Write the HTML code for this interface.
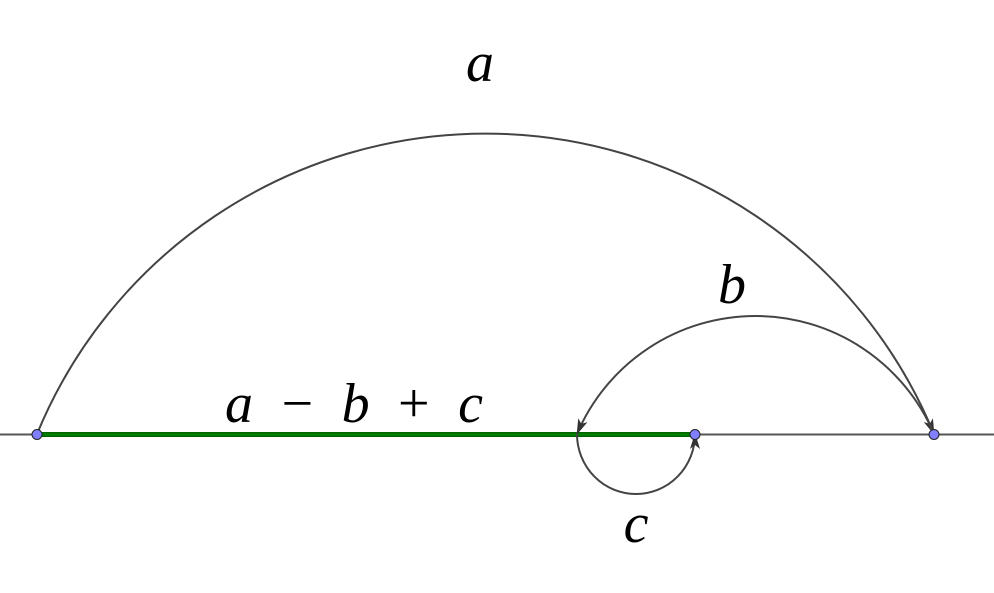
<!DOCTYPE html>
<html><head><style>
html,body{margin:0;padding:0;background:#fff;}
svg{display:block;}
text{font-family:"Liberation Serif",serif;font-style:italic;fill:#000;}
</style></head><body>
<svg width="994" height="593" viewBox="0 0 994 593" xmlns="http://www.w3.org/2000/svg">
<defs>
<marker id="ar" markerWidth="16" markerHeight="10" refX="15" refY="5" orient="auto" markerUnits="userSpaceOnUse">
<path d="M0,0 L16,5 L0,10 L4,5 Z" fill="#333"/>
</marker>
</defs>
<line x1="0" y1="434.5" x2="994" y2="434.5" stroke="#555" stroke-width="2"/>
<line x1="37" y1="434.5" x2="695" y2="434.5" stroke="#006400" stroke-width="5"/>
<line x1="37" y1="434.5" x2="695" y2="434.5" stroke="#008000" stroke-width="2"/>
<path d="M37,434 A485,485 0 0 1 934,434" fill="none" stroke="#444" stroke-width="2" marker-end="url(#ar)"/>
<path d="M934,434 A194,194 0 0 0 577,434" fill="none" stroke="#444" stroke-width="2" marker-end="url(#ar)"/>
<path d="M577,434 A59,60 0 0 0 695,434" fill="none" stroke="#444" stroke-width="2" marker-end="url(#ar)"/>
<circle cx="37" cy="434.5" r="5" fill="#7f7fff" stroke="#222" stroke-width="1"/>
<circle cx="695" cy="434.5" r="5" fill="#7f7fff" stroke="#222" stroke-width="1"/>
<circle cx="934" cy="434.5" r="5" fill="#7f7fff" stroke="#222" stroke-width="1"/>
<text x="480" y="81" font-size="56" text-anchor="middle">a</text>
<text x="732" y="303" font-size="56" text-anchor="middle">b</text>
<text x="636" y="542" font-size="56" text-anchor="middle">c</text>
<text x="225" y="422" font-size="56" textLength="258" lengthAdjust="spacing">a <tspan font-style="normal">−</tspan> b <tspan font-style="normal">+</tspan> c</text>
</svg>
</body></html>
